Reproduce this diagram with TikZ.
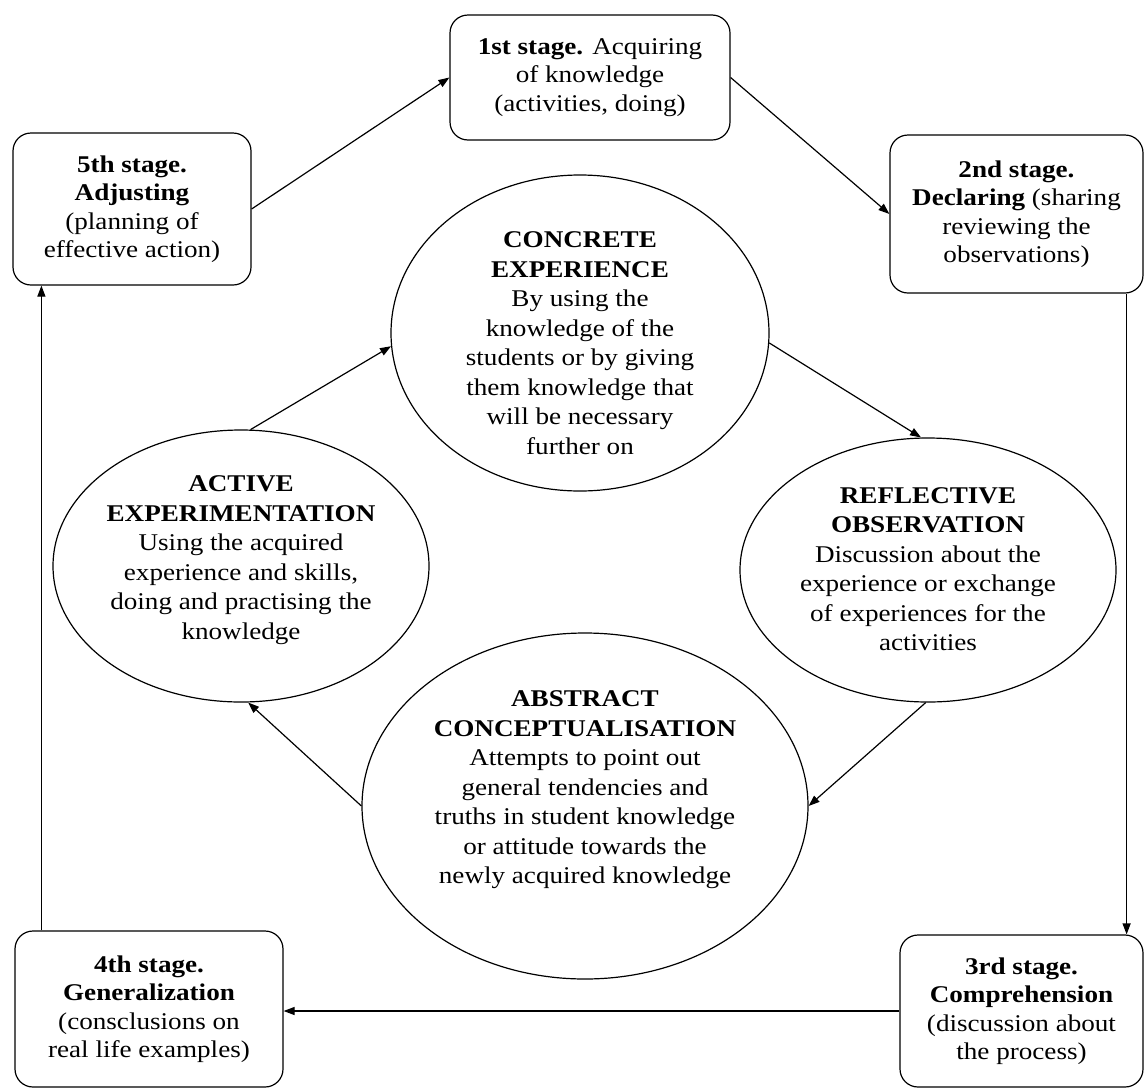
\documentclass[tikz,border=0pt]{standalone}
\usepackage{fontspec}
\setmainfont[FakeStretch=1.13]{Liberation Serif}
\usetikzlibrary{arrows.meta,shapes.geometric,calc}
\begin{document}
\begin{tikzpicture}[x=1pt,y=-1pt, line width=1.2pt,
 stagebox/.style={draw, rounded corners=18pt, align=center, inner sep=0pt, font=\fontsize{24}{28.5}\selectfont},
 cyc/.style={draw, ellipse, inner sep=0pt},
 cyctext/.style={align=center, inner sep=0pt, font=\fontsize{24}{29.5}\selectfont},
 arr/.style={-{Triangle[length=11pt,width=8pt]}}]
\useasboundingbox (0,0) rectangle (1145,1090);

% stage boxes
\node[stagebox, minimum width=280pt, minimum height=125pt] (b1) at (590,77.5)
  {\textbf{1st stage.} Acquiring\\ of knowledge\\ (activities, doing)};
\node[stagebox, minimum width=238pt, minimum height=152pt] (b5) at (132,209)
  {\textbf{5th stage.}\\ \textbf{Adjusting}\\ (planning of\\ effective action)};
\node[stagebox, minimum width=253pt, minimum height=158pt] (b2) at (1016.5,214)
  {\textbf{2nd stage.}\\ \textbf{Declaring} (sharing\\ reviewing the\\ observations)};
\node[stagebox, minimum width=243pt, minimum height=152pt] (b3) at (1021.5,1011)
  {\textbf{3rd stage.}\\ \textbf{Comprehension}\\ (discussion about\\ the process)};
\node[stagebox, minimum width=268pt, minimum height=156pt] (b4) at (149,1009)
  {\textbf{4th stage.}\\ \textbf{Generalization}\\ (consclusions on\\ real life examples)};

% ellipses
\node[cyc, minimum width=378pt, minimum height=316pt] (conc) at (580,333) {};
\node[cyctext] (conct) at (580,343)
  {\textbf{CONCRETE}\\ \textbf{EXPERIENCE}\\ By using the\\ knowledge of the\\ students or by giving\\ them knowledge that\\ will be necessary\\ further on};
\node[cyc, minimum width=376pt, minimum height=264pt] (refl) at (928,570) {};
\node[cyctext] (reflt) at (928,569)
  {\textbf{REFLECTIVE}\\ \textbf{OBSERVATION}\\ Discussion about the\\ experience or exchange\\ of experiences for the\\ activities};
\node[cyc, minimum width=376pt, minimum height=272pt] (act) at (241,566) {};
\node[cyctext] (actt) at (241,560)
  {\textbf{ACTIVE}\\ \textbf{EXPERIMENTATION}\\ Using the acquired\\ experience and skills,\\ doing and practising the\\ knowledge};
\node[cyc, minimum width=446pt, minimum height=346pt] (abs) at (585,806) {};
\node[cyctext] (abst) at (585,790)
  {\textbf{ABSTRACT}\\ \textbf{CONCEPTUALISATION}\\ Attempts to point out\\ general tendencies and\\ truths in student knowledge\\ or attitude towards the\\ newly acquired knowledge};

% outer cycle
\coordinate (v2) at ([xshift=-17pt]b2.south east);
\coordinate (v4) at ([xshift=27pt]b4.north west);
\draw[arr] (b5.east) -- (b1.west);
\draw[arr] (b1.east) -- (b2.west);
\draw[arr] (v2) -- (v2 |- b3.north);
\draw[arr] (b3.west) -- (b3.west -| b4.east);
\draw[arr] (v4) -- (v4 |- b5.south);

% inner cycle
\draw[arr] (act.86) -- (conc.184);
\draw[arr] (conc.-3) -- (refl.93);
\draw[arr] (refl.-91) -- (abs.east);
\draw[arr] (abs.west) -- (act.-87);
\end{tikzpicture}
\end{document}
